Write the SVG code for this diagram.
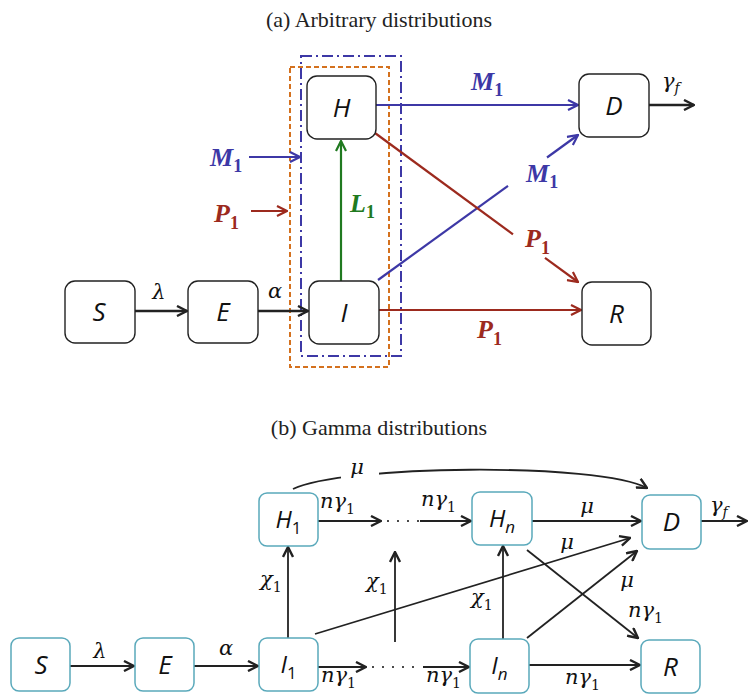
<svg xmlns="http://www.w3.org/2000/svg" width="748" height="696" viewBox="0 0 748 696">
<style>
.box{fill:#fff;stroke:#222;stroke-width:1.4}
.tbox{fill:#fff;stroke:#5aa9bb;stroke-width:1.5}
.nl{font-family:"Open Sans","Liberation Sans",sans-serif;font-style:italic;font-size:26px;fill:#111;text-anchor:middle}
.nl2{font-family:"Open Sans","Liberation Sans",sans-serif;font-style:italic;font-size:24px;fill:#111;text-anchor:middle}
.ns{font-style:normal;font-size:17px}
.nsi{font-style:italic;font-size:17px}
.m{font-family:"DejaVu Serif","Liberation Serif",serif;font-style:italic;font-size:21px;fill:#111}
.ms{font-style:normal;font-size:14px}
.msi{font-style:italic;font-size:14px}
.b{font-family:"Liberation Serif",serif;font-style:italic;font-weight:bold;font-size:26px}
.bs{font-style:normal;font-size:18px}
.title{font-family:"Liberation Serif",serif;font-size:22px;text-anchor:middle;fill:#222}
.k{fill:none;stroke:#222;stroke-width:2.4}
.kb{fill:none;stroke:#222;stroke-width:1.8}
.bl{fill:none;stroke:#3d38a6;stroke-width:2.2}
.rd{fill:none;stroke:#9c2a1e;stroke-width:2.2}
.gr{fill:none;stroke:#207a20;stroke-width:2.2}
.dots{fill:none;stroke:#222;stroke-width:2.2;stroke-linecap:round;stroke-dasharray:0 10}
</style>
<defs>
<marker id="ak" viewBox="0 0 12 12" refX="11" refY="6" markerWidth="12" markerHeight="12" orient="auto" markerUnits="userSpaceOnUse"><path d="M1,1 L11,6 L1,11" fill="none" stroke="#222" stroke-width="2.4"/></marker>
<marker id="ab" viewBox="0 0 12 12" refX="11" refY="6" markerWidth="12" markerHeight="12" orient="auto" markerUnits="userSpaceOnUse"><path d="M1,1 L11,6 L1,11" fill="none" stroke="#3d38a6" stroke-width="2.2"/></marker>
<marker id="ar" viewBox="0 0 12 12" refX="11" refY="6" markerWidth="12" markerHeight="12" orient="auto" markerUnits="userSpaceOnUse"><path d="M1,1 L11,6 L1,11" fill="none" stroke="#9c2a1e" stroke-width="2.2"/></marker>
<marker id="ag" viewBox="0 0 12 12" refX="11" refY="6" markerWidth="12" markerHeight="12" orient="auto" markerUnits="userSpaceOnUse"><path d="M1,1 L11,6 L1,11" fill="none" stroke="#207a20" stroke-width="2.2"/></marker>
</defs>
<rect width="748" height="696" fill="#fff"/>

<text class="title" x="379" y="27">(a) Arbitrary distributions</text>
<text class="title" x="379" y="435">(b) Gamma distributions</text>

<!-- compartment boundaries (a) -->
<g id="bounds">
<rect x="290" y="67" width="99" height="300" fill="none" stroke="#d4711e" stroke-width="2" stroke-dasharray="5,3"/>
<rect x="301" y="56" width="100" height="300" fill="none" stroke="#3d38a6" stroke-width="2" stroke-dasharray="11,4,2,4"/>
</g>

<g id="connectors-a">
<line class="k" x1="135" y1="311" x2="187" y2="311" marker-end="url(#ak)"/>
<line class="k" x1="258" y1="311" x2="308" y2="311" marker-end="url(#ak)"/>
<line class="gr" x1="341" y1="281" x2="341" y2="141" marker-end="url(#ag)"/>
<line class="bl" x1="249" y1="157" x2="300" y2="157" marker-end="url(#ab)"/>
<line class="rd" x1="251" y1="211" x2="287" y2="211" marker-end="url(#ar)"/>
<line class="bl" x1="376" y1="105" x2="578" y2="105" marker-end="url(#ab)"/>
<line class="k" x1="649" y1="105" x2="694" y2="105" marker-end="url(#ak)"/>
<line class="bl" x1="378" y1="280" x2="508" y2="185.8"/>
<line class="bl" x1="547" y1="157.5" x2="578" y2="135" marker-end="url(#ab)"/>
<line class="rd" x1="375" y1="133" x2="513" y2="234.3"/>
<line class="rd" x1="545" y1="257.8" x2="578" y2="282" marker-end="url(#ar)"/>
<line class="rd" x1="379" y1="310" x2="581" y2="310" marker-end="url(#ar)"/>
</g>

<g id="S-a"><rect class="box" x="65" y="281" width="70" height="62" rx="10"/><text class="nl" x="99" y="321">S</text></g>
<g id="E-a"><rect class="box" x="188" y="281" width="70" height="62" rx="10"/><text class="nl" x="223" y="321">E</text></g>
<g id="I-a"><rect class="box" x="309" y="281" width="70" height="63" rx="10"/><text class="nl" x="344" y="322">I</text></g>
<g id="H-a"><rect class="box" x="307" y="76" width="69" height="63" rx="10"/><text class="nl" x="341.5" y="117">H</text></g>
<g id="D-a"><rect class="box" x="579" y="74" width="70" height="63" rx="10"/><text class="nl" x="614" y="115">D</text></g>
<g id="R-a"><rect class="box" x="582" y="282" width="69" height="63" rx="10"/><text class="nl" x="616.5" y="323">R</text></g>

<g id="labels-a">
<text class="m" x="159" y="299" text-anchor="middle">λ</text>
<text class="m" x="275" y="298" text-anchor="middle">α</text>
<text class="m" x="662" y="88">γ<tspan class="msi" dy="5">f</tspan></text>
<text class="b" x="210" y="166" fill="#3d38a6">M<tspan class="bs" dy="6">1</tspan></text>
<text class="b" x="214" y="222" fill="#9c2a1e">P<tspan class="bs" dy="7">1</tspan></text>
<text class="b" x="350" y="212" fill="#207a20">L<tspan class="bs" dy="6">1</tspan></text>
<text class="b" x="471" y="90" fill="#3d38a6">M<tspan class="bs" dy="6">1</tspan></text>
<text class="b" x="526" y="182" fill="#3d38a6">M<tspan class="bs" dy="6">1</tspan></text>
<text class="b" x="525" y="247" fill="#9c2a1e">P<tspan class="bs" dy="7">1</tspan></text>
<text class="b" x="477" y="338" fill="#9c2a1e">P<tspan class="bs" dy="7">1</tspan></text>
</g>

<g id="connectors-b">
<path class="kb" d="M293,489 C340,465 600,462 647,488" marker-end="url(#ak)"/>
<line class="kb" x1="70" y1="666" x2="134" y2="666" marker-end="url(#ak)"/>
<line class="kb" x1="194" y1="666" x2="258" y2="666" marker-end="url(#ak)"/>
<line class="kb" x1="288" y1="638" x2="288" y2="547" marker-end="url(#ak)"/>
<line class="kb" x1="318" y1="521" x2="381" y2="521" marker-end="url(#ak)"/>
<line class="dots" x1="388" y1="521" x2="420" y2="521"/>
<line class="kb" x1="420" y1="521" x2="471" y2="521" marker-end="url(#ak)"/>
<line class="kb" x1="318" y1="667" x2="366" y2="667" marker-end="url(#ak)"/>
<line class="dots" x1="373" y1="667" x2="423" y2="667"/>
<line class="kb" x1="423" y1="667" x2="469" y2="667" marker-end="url(#ak)"/>
<line class="kb" x1="532" y1="521" x2="641" y2="521" marker-end="url(#ak)"/>
<line class="kb" x1="701" y1="521" x2="747" y2="521" marker-end="url(#ak)"/>
<line class="kb" x1="395" y1="642" x2="395" y2="552" marker-end="url(#ak)"/>
<line class="kb" x1="503" y1="639" x2="503" y2="546" marker-end="url(#ak)"/>
<line class="kb" x1="315" y1="634" x2="630" y2="538" marker-end="url(#ak)"/>
<line class="kb" x1="527" y1="638" x2="637" y2="551" marker-end="url(#ak)"/>
<line class="kb" x1="527" y1="550" x2="638" y2="638" marker-end="url(#ak)"/>
<line class="kb" x1="529" y1="665" x2="640" y2="665" marker-end="url(#ak)"/>
</g>

<g id="S-b"><rect class="tbox" x="11" y="638" width="59" height="53" rx="8"/><text class="nl" x="41" y="674">S</text></g>
<g id="E-b"><rect class="tbox" x="135" y="638" width="59" height="53" rx="8"/><text class="nl" x="165" y="674">E</text></g>
<g id="I1-b"><rect class="tbox" x="259" y="638" width="59" height="53" rx="8"/><text class="nl2" x="288.5" y="673">I<tspan class="ns" dy="6">1</tspan></text></g>
<g id="H1-b"><rect class="tbox" x="259" y="493" width="59" height="53" rx="8"/><text class="nl2" x="288.5" y="528">H<tspan class="ns" dy="6">1</tspan></text></g>
<g id="Hn-b"><rect class="tbox" x="472" y="492" width="60" height="53" rx="8"/><text class="nl2" x="502" y="527">H<tspan class="nsi" dy="6">n</tspan></text></g>
<g id="In-b"><rect class="tbox" x="470" y="639" width="59" height="54" rx="8"/><text class="nl2" x="499.5" y="674">I<tspan class="nsi" dy="6">n</tspan></text></g>
<g id="D-b"><rect class="tbox" x="642" y="495" width="59" height="54" rx="8"/><text class="nl" x="671.5" y="531">D</text></g>
<g id="R-b"><rect class="tbox" x="641" y="640" width="59" height="53" rx="8"/><text class="nl" x="670.5" y="676">R</text></g>

<g id="labels-b">
<rect x="341" y="461" width="38" height="21" fill="#fff"/>
<text class="m" x="357" y="474" text-anchor="middle">μ</text>
<text class="m" x="100" y="658" text-anchor="middle">λ</text>
<text class="m" x="226" y="655" text-anchor="middle">α</text>
<text class="m" x="260" y="586">χ<tspan class="ms" dy="6">1</tspan></text>
<text class="m" x="320" y="508">nγ<tspan class="ms" dy="6">1</tspan></text>
<text class="m" x="421" y="506">nγ<tspan class="ms" dy="6">1</tspan></text>
<text class="m" x="587" y="513" text-anchor="middle">μ</text>
<text class="m" x="710" y="512">γ<tspan class="msi" dy="5">f</tspan></text>
<text class="m" x="567" y="549" text-anchor="middle">μ</text>
<text class="m" x="366" y="588">χ<tspan class="ms" dy="6">1</tspan></text>
<text class="m" x="471" y="604">χ<tspan class="ms" dy="6">1</tspan></text>
<text class="m" x="627" y="587" text-anchor="middle">μ</text>
<text class="m" x="628" y="617">nγ<tspan class="ms" dy="6">1</tspan></text>
<text class="m" x="321" y="682">nγ<tspan class="ms" dy="6">1</tspan></text>
<text class="m" x="426" y="682">nγ<tspan class="ms" dy="6">1</tspan></text>
<text class="m" x="565" y="684">nγ<tspan class="ms" dy="6">1</tspan></text>
</g>
</svg>
